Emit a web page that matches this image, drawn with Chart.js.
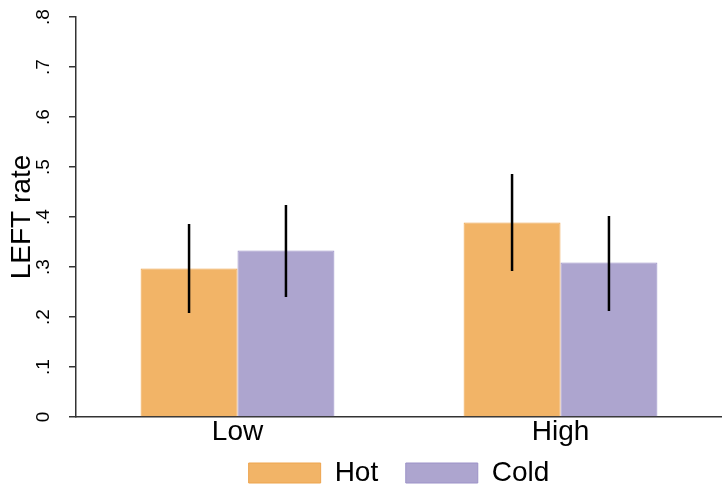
<!DOCTYPE html>
<html>
<head>
<meta charset="utf-8">
<script src="https://cdn.jsdelivr.net/npm/chart.js@4/dist/chart.umd.min.js"></script>
<style>
  html, body { margin: 0; padding: 0; background: #fff; }
  #wrap { width: 722px; height: 485px; }
</style>
</head>
<body>
<div id="wrap"><canvas id="barchart"></canvas></div>
<script>
var categories = ['Low', 'High'];
var hotValues = [0.297, 0.389];
var coldValues = [0.333, 0.309];
var hotLow = [0.208, 0.292];
var hotHigh = [0.386, 0.486];
var coldLow = [0.240, 0.212];
var coldHigh = [0.424, 0.402];
var yTicks = [0, 0.1, 0.2, 0.3, 0.4, 0.5, 0.6, 0.7, 0.8];

var font = "'Liberation Sans', Arial, sans-serif";

// error bars drawn on top of the bars, from the y scale
var errorBars = {
  id: 'errorBars',
  afterDatasetsDraw: function (chart) {
    var ctx = chart.ctx;
    var y = chart.scales.y;
    var ranges = [[hotLow, hotHigh], [coldLow, coldHigh]];
    ctx.save();
    ctx.strokeStyle = '#000';
    ctx.lineWidth = 2.5;
    chart.data.datasets.forEach(function (ds, d) {
      chart.getDatasetMeta(d).data.forEach(function (bar, i) {
        var top = y.getPixelForValue(ranges[d][1][i]);
        var bot = y.getPixelForValue(ranges[d][0][i]);
        ctx.beginPath();
        ctx.moveTo(bar.x, top);
        ctx.lineTo(bar.x, bot);
        ctx.stroke();
      });
    });
    ctx.restore();
  }
};

var barData = {
  labels: categories,
  datasets: [{
    label: 'Hot',
    data: hotValues,
    backgroundColor: '#F2B467',
    borderColor: '#EEA54E',
    borderWidth: 1
  }, {
    label: 'Cold',
    data: coldValues,
    backgroundColor: '#ADA5CF',
    borderColor: '#9C92C8',
    borderWidth: 1
  }]
};

var barConfig = {
  type: 'bar',
  data: barData,
  options: {
    responsive: false,
    animation: false,
    devicePixelRatio: 1,
    layout: { padding: { top: 17, left: 0, right: 0, bottom: -12 } },
    datasets: { bar: { categoryPercentage: 0.6, barPercentage: 1 } },
    plugins: {
      tooltip: { enabled: false },
      legend: {
        position: 'bottom',
        fullSize: false,
        labels: {
          boxWidth: 72,
          boxHeight: 20,
          padding: 12,
          color: '#000',
          font: { family: font, size: 28 },
          // extra room after "Hot" so the gap to the next key matches
          generateLabels: function (chart) {
            var items = Chart.defaults.plugins.legend.labels.generateLabels(chart);
            items[0].text = items[0].text + '  ';
            return items;
          }
        }
      }
    },
    scales: {
      x: {
        grid: { display: false, drawTicks: false },
        border: { display: true, color: '#333', width: 1.5 },
        ticks: { color: '#000', padding: -2, font: { family: font, size: 28 } },
        afterFit: function (s) { s.height = 30; }
      },
      y: {
        min: 0,
        max: 0.8,
        afterBuildTicks: function (s) { s.ticks = yTicks.map(function (v) { return { value: v }; }); },
        grid: { drawOnChartArea: false, drawTicks: true, tickLength: 7, tickColor: '#333', lineWidth: 1.5 },
        border: { display: true, color: '#333', width: 1.5 },
        ticks: {
          color: '#000',
          padding: 17,
          minRotation: 90,
          maxRotation: 90,
          crossAlign: 'center',
          font: { family: font, size: 19 },
          callback: function (v) { return v === 0 ? '0' : Number(v).toFixed(1).replace(/^0/, ''); }
        },
        title: {
          display: true,
          text: 'LEFT rate',
          color: '#000',
          padding: { top: 5, bottom: 0 },
          font: { family: font, size: 28 }
        },
        afterFit: function (s) {
          s.width = 76;
          s.paddingTop = 0;
          s.paddingBottom = 0;
        }
      }
    }
  },
  plugins: [errorBars]
};

var canvas = document.getElementById('barchart');
canvas.width = 722;
canvas.height = 485;
var barChart = new Chart(canvas, barConfig);
</script>
</body>
</html>
